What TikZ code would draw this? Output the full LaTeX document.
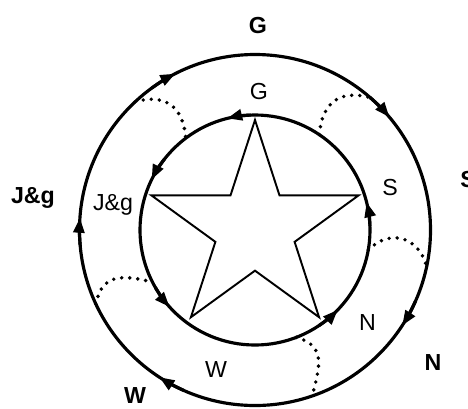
\documentclass[tikz,border=0pt]{standalone}
\usepackage{fontspec}
\setmainfont{Liberation Sans}
\usetikzlibrary{calc,arrows.meta}
\tikzset{
	ring/.style={circle,draw=black,line width=1.8pt,inner sep=0pt,outer sep=0pt},
	starline/.style={draw=black,line width=1.1pt,line join=miter},
	link/.style={line width=2.2pt,line cap=round,dash pattern=on 0pt off 4.6pt,looseness=1.3},
	flow/.style={line width=1.8pt,-{Triangle[length=0.3cm,width=0.22cm]}},
	lbl/.style={font=\fontsize{13.2}{15}\selectfont,anchor=base,inner sep=0pt},
	olbl/.style={lbl,font=\fontsize{13.2}{15}\selectfont\bfseries},
}

\begin{document}
\begin{tikzpicture}
	\useasboundingbox (-5.1,-3.56) rectangle (4.26,4.6);
	% the two rings
	\node[ring,minimum size=7.02cm] (outer) at (0,0) {};
	\node[ring,minimum size=4.6cm] (inner) at (0,0) {};
	% star
	\foreach \i in {0,...,4} {
		\coordinate (p\i) at ($(0,0.02)+(90+72*\i:2.18)$);
		\coordinate (q\i) at ($(0,0.02)+(126+72*\i:0.833)$);
	}
	\draw[starline] (p0) -- (q0) -- (p1) -- (q1) -- (p2) -- (q2) -- (p3) -- (q3) -- (p4) -- (q4) -- cycle;
	% direction of travel
	\foreach \a in {40,117,176,237,327}
		\draw[flow] (\a+9:3.51) arc[start angle=\a+9,end angle=\a,radius=3.51];
	\foreach \a in {14,104,154,222,316}
		\draw[flow] (\a-12:2.3) arc[start angle=\a-12,end angle=\a,radius=2.3];
	% links between the rings
	\draw[link] (outer.133) to[out=15,in=95] (inner.127);
	\draw[link] (inner.56) to[out=85,in=165] (outer.49);
	\draw[link] (inner.-10) to[out=45,in=105] (outer.-12);
	\draw[link] (inner.-69) to[out=-15,in=75] (outer.-71);
	\draw[link] (outer.205) to[out=80,in=165] (inner.207);
	% labels
	\node[lbl] (gIn) at (0.08,2.62) {G};
	\node[lbl] (jgIn) at (-2.84,0.4) {J\&g};
	\node[lbl] (sIn) at (2.7,0.7) {S};
	\node[lbl] (nIn) at (2.25,-2.0) {N};
	\node[lbl] (wIn) at (-0.78,-2.94) {W};
	\node[olbl] (gOut) at (0.06,3.94) {G};
	\node[olbl] (jgOut) at (-4.44,0.54) {J\&g};
	\node[olbl] (sOut) at (4.26,0.86) {S};
	\node[olbl] (nOut) at (3.56,-2.8) {N};
	\node[olbl] (wOut) at (-2.4,-3.46) {W};
\end{tikzpicture}
\end{document}
